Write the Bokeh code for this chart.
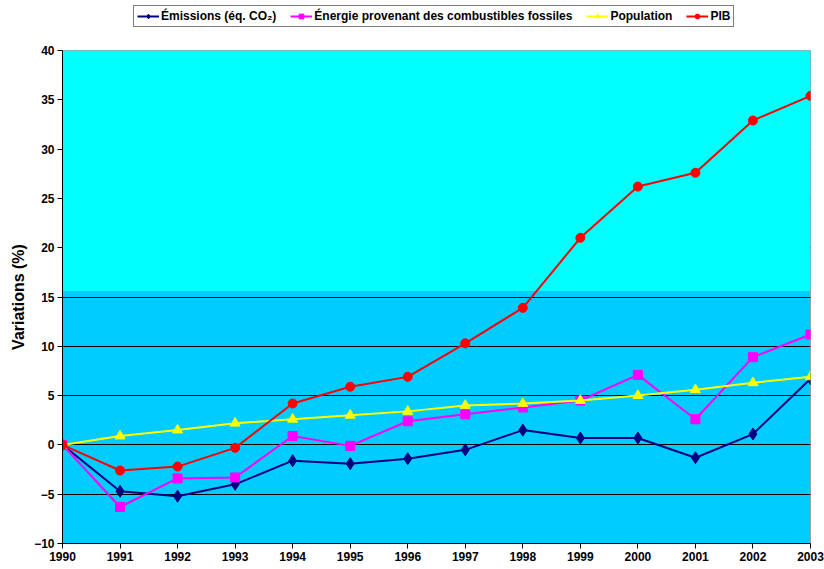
from bokeh.plotting import figure
from bokeh.layouts import column
from bokeh.models import BoxAnnotation, Legend, Range1d, FixedTicker
from bokeh.embed import file_html
from bokeh.resources import INLINE

years = list(range(1990, 2004))
emissions = [0, -4.7, -5.2, -4.0, -1.6, -1.9, -1.4, -0.5, 1.5, 0.7, 0.7, -1.3, 1.1, 6.7]
energie = [0, -6.3, -3.4, -3.3, 0.9, -0.1, 2.4, 3.1, 3.8, 4.5, 7.1, 2.6, 8.9, 11.2]
population = [0, 0.9, 1.5, 2.2, 2.6, 3.0, 3.4, 4.0, 4.2, 4.5, 5.0, 5.6, 6.3, 6.9]
pib = [0, -2.6, -2.2, -0.3, 4.2, 5.9, 6.9, 10.3, 13.9, 21.0, 26.2, 27.6, 32.9, 35.4]
y_ticks = [-10, -5, 0, 5, 10, 15, 20, 25, 30, 35, 40]
band_split = 15.6

FONT = "Liberation Sans"

series = [
    ("Émissions (éq. CO₂)", emissions, "#000080", "diamond", 12),
    ("Énergie provenant des combustibles fossiles", energie, "#FF00FF", "square", 9),
    ("Population", population, "#FFFF00", "triangle", 10),
    ("PIB", pib, "#FF0000", "circle", 9),
]

# main chart
p = figure(width=824, height=537, output_backend="svg", toolbar_location=None,
           x_range=Range1d(1990, 2003), y_range=Range1d(-10, 40),
           min_border_left=62, min_border_right=14, min_border_top=18,
           min_border_bottom=26)
p.background_fill_color = "#00CCFF"
p.border_fill_color = "white"
p.outline_line_color = "#A0A0A0"
p.add_layout(BoxAnnotation(bottom=band_split, fill_color="#00FFFF", fill_alpha=1, line_alpha=0, level="underlay"))

p.xgrid.visible = False
p.ygrid.ticker = FixedTicker(ticks=y_ticks)
p.ygrid.grid_line_color = "black"
p.ygrid.grid_line_width = 1

for label, vals, col, mk, sz in series:
    p.line(years, vals, line_color=col, line_width=2)
    p.scatter(years, vals, marker=mk, size=sz, fill_color=col, line_color=col)

p.xaxis.ticker = FixedTicker(ticks=years)
p.yaxis.ticker = FixedTicker(ticks=y_ticks)
for ax in (p.xaxis[0], p.yaxis[0]):
    ax.axis_line_color = "black"
    ax.major_tick_line_color = "black"
    ax.major_tick_out = 5
    ax.major_tick_in = 0
    ax.minor_tick_line_color = None
    ax.major_label_text_font = FONT
    ax.major_label_text_font_style = "bold"
    ax.major_label_text_font_size = "12px"
    ax.major_label_text_color = "black"
    ax.major_label_standoff = 3
p.yaxis.axis_label = "Variations (%)"
p.yaxis.axis_label_text_font = FONT
p.yaxis.axis_label_text_font_style = "bold"
p.yaxis.axis_label_text_font_size = "16px"
p.yaxis.axis_label_text_color = "black"
p.yaxis.axis_label_standoff = 4

# legend strip above the chart (its renderers hold the same series, out of view)
lf = figure(width=824, height=32, output_backend="svg", toolbar_location=None,
            x_range=Range1d(0, 1), y_range=Range1d(0, 1),
            x_axis_type=None, y_axis_type=None, min_border=0)
lf.outline_line_color = None
lf.background_fill_color = "white"
lf.border_fill_color = "white"
lf.xgrid.visible = False
lf.ygrid.visible = False
items = []
for label, vals, col, mk, sz in series:
    l = lf.line(years, vals, line_color=col, line_width=2)
    s = lf.scatter(years, vals, marker=mk, size=min(sz, 9), fill_color=col, line_color=col)
    items.append((label, [l, s]))

leg = Legend(items=items, orientation="horizontal", location=(71, 5))
leg.border_line_color = "black"
leg.border_line_width = 1
leg.background_fill_color = "white"
leg.label_text_font = FONT
leg.label_text_font_style = "bold"
leg.label_text_font_size = "12px"
leg.label_text_color = "black"
leg.glyph_width = 22
leg.glyph_height = 12
leg.spacing = 14
leg.padding = 3
leg.margin = 0
leg.label_standoff = 2
leg.label_height = 14
lf.add_layout(leg)

layout = column(lf, p, spacing=0)
open("out.html", "w").write(file_html(layout, INLINE))
